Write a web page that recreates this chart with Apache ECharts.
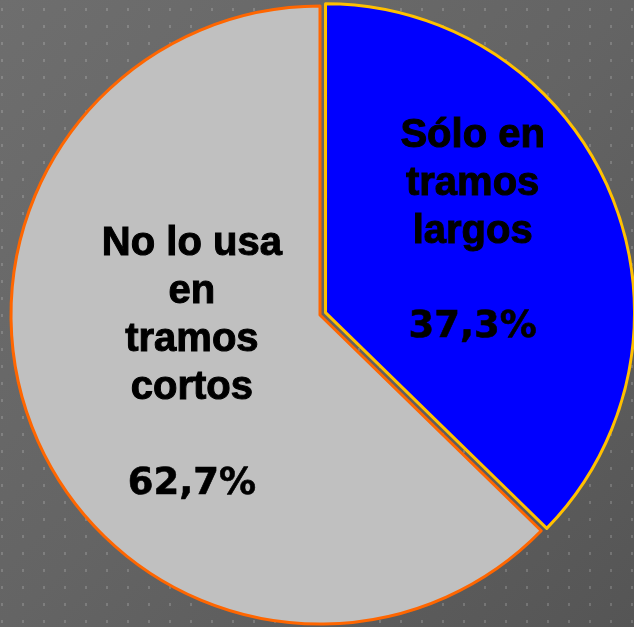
<!DOCTYPE html>
<html>
<head>
<meta charset="utf-8">
<script src="https://cdn.jsdelivr.net/npm/echarts@6/dist/echarts.min.js"></script>
<style>
  html, body { margin: 0; padding: 0; }
  #main {
    width: 634px;
    height: 627px;
    background-color: #626262;
    background-image:
      url("data:image/svg+xml;utf8,<svg xmlns='http://www.w3.org/2000/svg' width='21' height='17'><rect x='1' y='8' width='2' height='3' fill='rgba(255,255,255,0.17)'/></svg>"),
      linear-gradient(135deg, #6e6e6e 0%, #646464 50%, #555555 100%);
  }
</style>
</head>
<body>
<div id="main"></div>
<script>
  // categorias y valores (%)
  var categories = ['Sólo en\ntramos\nlargos', 'No lo usa\nen\ntramos\ncortos'];
  var values = [37.3, 62.7];
  var sliceColors = ['#0000ff', '#c0c0c0'];
  var borderColors = ['#ffc000', '#ff6600'];

  var chart = echarts.init(document.getElementById('main'), null, { renderer: 'canvas' });

  var data = categories.map(function (name, i) {
    return {
      name: name,
      value: values[i],
      selected: i === 0,
      itemStyle: { color: sliceColors[i], borderColor: borderColors[i], borderWidth: 3 }
    };
  });

  // pequeños ajustes de la posicion de las etiquetas
  var labelShift = [{ dx: 2, dy: -20 }, { dx: 17, dy: -12 }];

  chart.setOption({
    backgroundColor: 'transparent',
    animation: false,
    series: [{
      type: 'pie',
      center: [320, 315],
      radius: 309,
      startAngle: 90,
      clockwise: true,
      selectedMode: 'single',
      selectedOffset: 6,
      label: {
        show: true,
        position: 'inside',
        color: '#000',
        fontWeight: 'bold',
        lineHeight: 48,
        align: 'center',
        formatter: function (p) {
          return '{n|' + p.name + '}\n\n{v|' + p.value.toFixed(1).replace('.', ',') + '%}';
        },
        rich: {
          n: {
            fontFamily: 'Liberation Sans', fontWeight: 'bold', fontSize: 40, lineHeight: 48,
            color: '#000', textBorderColor: '#000', textBorderWidth: 1
          },
          v: {
            fontFamily: 'DejaVu Sans', fontWeight: 'bold', fontSize: 37, lineHeight: 48,
            color: '#000', textBorderColor: '#000', textBorderWidth: 0.6
          }
        }
      },
      labelLayout: function (p) {
        return labelShift[p.dataIndex];
      },
      labelLine: { show: false },
      emphasis: { disabled: true },
      data: data
    }]
  });
</script>
</body>
</html>
